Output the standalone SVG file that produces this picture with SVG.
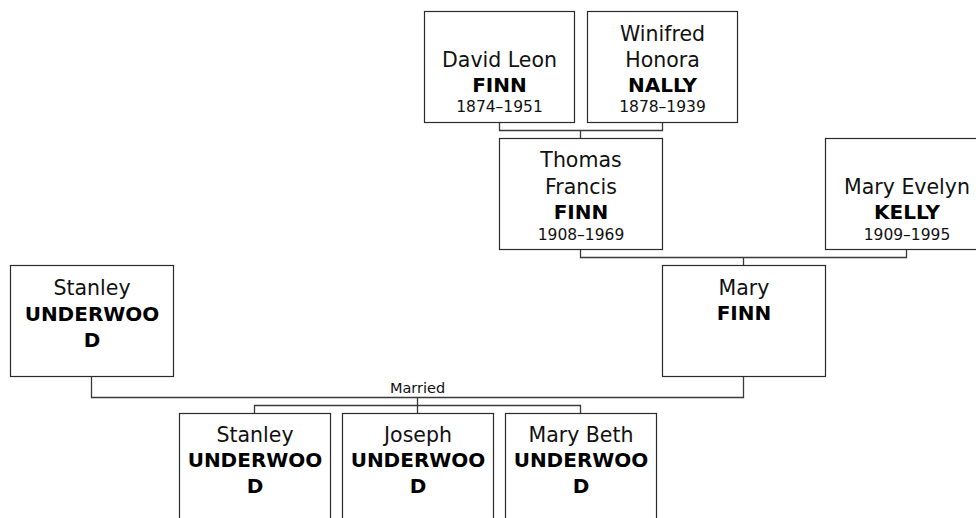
<svg xmlns="http://www.w3.org/2000/svg" width="976" height="518" viewBox="0 0 976 518">
<style>
.box{fill:#fff;stroke:#2a2a2a;stroke-width:1.2}
.ln{fill:none;stroke:#3a3a3a;stroke-width:1.3}
text{font-family:"DejaVu Sans",Verdana,sans-serif;fill:#000;text-anchor:middle}
.n{font-size:20.5px;fill:#111}
.s{font-size:20px;font-weight:bold}
.d{font-size:15.5px;fill:#111}
.m{font-size:14.5px;fill:#111}
</style>
<rect width="976" height="518" fill="#fff"/>
<g id="connectors">
<path class="ln" d="M499.5,122.5V130.5H662.5V122.5M580.5,130.5V138.5"/>
<path class="ln" d="M580.5,249.5V257.5H906.5V249.5M743.5,257.5V265.5"/>
<path class="ln" d="M91.5,376.5V397.5H743.5V376.5M417.5,397.5V405.5M254.5,413.5V405.5H580.5V413.5M417.5,405.5V413.5"/>
<text class="m" x="417.5" y="393">Married</text>
</g>
<g id="david-leon-finn">
<rect class="box" x="424.5" y="11.5" width="150" height="111"/>
<text class="n" x="499.5" y="66.5">David Leon</text>
<text class="s" x="499.5" y="92">FINN</text>
<text class="d" x="499.5" y="112">1874–1951</text>
</g>
<g id="winifred-honora-nally">
<rect class="box" x="587.5" y="11.5" width="150" height="111"/>
<text class="n" x="662.5" y="40.5">Winifred</text>
<text class="n" x="662.5" y="66.5">Honora</text>
<text class="s" x="662.5" y="92">NALLY</text>
<text class="d" x="662.5" y="112">1878–1939</text>
</g>
<g id="thomas-francis-finn">
<rect class="box" x="499.5" y="138.5" width="163" height="111"/>
<text class="n" x="581" y="167">Thomas</text>
<text class="n" x="581" y="193.5">Francis</text>
<text class="s" x="581" y="219">FINN</text>
<text class="d" x="581" y="240">1908–1969</text>
</g>
<g id="mary-evelyn-kelly">
<rect class="box" x="825.5" y="138.5" width="163" height="111"/>
<text class="n" x="907" y="193.5">Mary Evelyn</text>
<text class="s" x="907" y="219">KELLY</text>
<text class="d" x="907" y="240">1909–1995</text>
</g>
<g id="stanley-underwood">
<rect class="box" x="10.5" y="265.5" width="163" height="111"/>
<text class="n" x="92" y="295">Stanley</text>
<text class="s" x="92" y="320.5">UNDERWOO</text>
<text class="s" x="92" y="346.5">D</text>
</g>
<g id="mary-finn">
<rect class="box" x="662.5" y="265.5" width="163" height="111"/>
<text class="n" x="744" y="295">Mary</text>
<text class="s" x="744" y="320">FINN</text>
</g>
<g id="child-stanley-underwood">
<rect class="box" x="179.5" y="413.5" width="151" height="130"/>
<text class="n" x="255" y="442">Stanley</text>
<text class="s" x="255" y="467">UNDERWOO</text>
<text class="s" x="255" y="492.5">D</text>
</g>
<g id="child-joseph-underwood">
<rect class="box" x="342.5" y="413.5" width="151" height="130"/>
<text class="n" x="418" y="442">Joseph</text>
<text class="s" x="418" y="467">UNDERWOO</text>
<text class="s" x="418" y="492.5">D</text>
</g>
<g id="child-mary-beth-underwood">
<rect class="box" x="505.5" y="413.5" width="151" height="130"/>
<text class="n" x="581" y="442">Mary Beth</text>
<text class="s" x="581" y="467">UNDERWOO</text>
<text class="s" x="581" y="492.5">D</text>
</g>
</svg>
